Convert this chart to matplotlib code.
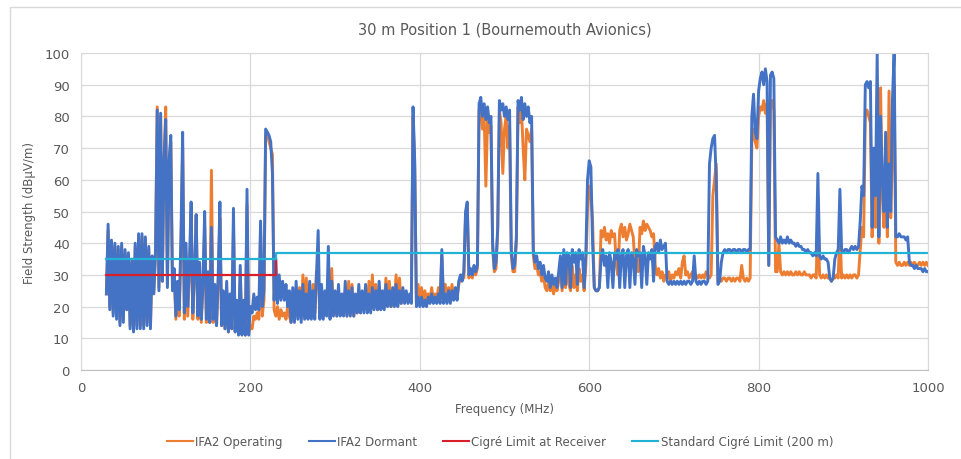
import numpy as np
import matplotlib
matplotlib.use("Agg")
import matplotlib.pyplot as plt
from matplotlib.patches import Rectangle

# sweep points, 2 MHz apart, 30..1000 MHz
FREQ = np.arange(30, 1001, 2)

# IFA2 Dormant, dBuV/m (one row = 20 MHz)
DORMANT = [
    24, 46, 19, 41, 17, 40, 16, 39, 14, 40,
    15, 38, 19, 37, 13, 35, 12, 40, 13, 43,
    13, 43, 13, 42, 14, 39, 13, 36, 24, 38,
    82, 25, 81, 28, 66, 79, 26, 66, 74, 25,
    32, 17, 28, 19, 42, 75, 18, 40, 20, 33,
    53, 18, 30, 49, 17, 34, 16, 28, 50, 16,
    31, 15, 45, 16, 27, 14, 30, 53, 14, 25,
    13, 28, 12, 24, 13, 51, 12, 22, 11, 33,
    11, 22, 11, 57, 11, 20, 18, 24, 19, 23,
    19, 47, 20, 25, 76, 75, 74, 72, 62, 22,
    35, 21, 30, 22, 28, 22, 27, 20, 25, 15,
    26, 15, 28, 16, 25, 15, 27, 16, 24, 16,
    28, 16, 25, 16, 30, 44, 16, 27, 16, 25,
    17, 39, 16, 28, 17, 25, 17, 27, 17, 24,
    17, 28, 17, 25, 17, 26, 17, 24, 18, 27,
    18, 25, 18, 27, 18, 24, 18, 26, 19, 25,
    19, 28, 19, 25, 19, 27, 20, 25, 20, 26,
    20, 27, 20, 25, 21, 26, 21, 25, 21, 24,
    21, 83, 66, 20, 23, 20, 23, 20, 22, 20,
    23, 21, 24, 21, 23, 21, 24, 21, 38, 21,
    24, 21, 25, 21, 25, 22, 26, 22, 28, 30,
    28, 31, 50, 53, 30, 32, 30, 33, 31, 33,
    84, 86, 80, 84, 79, 83, 78, 80, 40, 32,
    34, 45, 85, 82, 84, 80, 83, 79, 82, 38,
    32, 33, 42, 85, 82, 86, 79, 84, 80, 83,
    78, 80, 38, 34, 36, 32, 34, 30, 33, 29,
    28, 31, 26, 30, 27, 29, 26, 31, 36, 26,
    38, 27, 37, 36, 26, 38, 34, 37, 27, 38,
    35, 37, 26, 36, 60, 66, 64, 40, 26, 25,
    25, 26, 35, 38, 33, 36, 26, 37, 34, 26,
    37, 35, 38, 26, 36, 38, 26, 36, 38, 26,
    37, 35, 27, 38, 36, 37, 26, 39, 36, 27,
    37, 35, 38, 28, 39, 40, 37, 41, 38, 39,
    40, 28, 27, 28, 27, 28, 27, 28, 27, 28,
    27, 28, 27, 28, 28, 27, 28, 36, 28, 27,
    28, 27, 28, 28, 27, 28, 65, 70, 73, 74,
    60, 27, 28, 34, 37, 38, 37, 38, 38, 37,
    38, 38, 37, 38, 38, 37, 38, 38, 37, 38,
    38, 80, 87, 75, 73, 88, 92, 94, 90, 95,
    91, 33, 93, 94, 92, 42, 41, 40, 42, 40,
    41, 40, 42, 40, 41, 40, 40, 39, 40, 39,
    39, 38, 38, 37, 38, 37, 37, 36, 37, 36,
    62, 36, 35, 36, 35, 35, 34, 29, 28, 29,
    35, 37, 38, 57, 38, 37, 38, 38, 37, 38,
    39, 38, 39, 38, 39, 47, 58, 55, 90, 91,
    89, 91, 45, 70, 55, 100, 42, 80, 60, 50,
    75, 45, 65, 50, 85, 100, 42, 42, 43, 42,
    42, 42, 41, 42, 34, 33, 33, 32, 33, 32,
    32, 32, 31, 32, 31, 31,
]

# IFA2 Operating, dBuV/m
OPERATING = [
    24, 44, 20, 40, 18, 39, 17, 38, 15, 39,
    16, 37, 19, 36, 14, 34, 13, 39, 14, 42,
    14, 42, 14, 41, 15, 38, 14, 35, 25, 37,
    83, 26, 80, 28, 65, 83, 27, 65, 72, 26,
    30, 16, 27, 17, 38, 70, 16, 35, 17, 30,
    50, 16, 28, 49, 16, 30, 15, 26, 45, 15,
    28, 15, 63, 15, 25, 14, 27, 48, 14, 23,
    13, 25, 12, 22, 13, 45, 12, 20, 12, 30,
    12, 20, 11, 52, 12, 14, 13, 17, 16, 18,
    16, 44, 17, 22, 74, 75, 72, 70, 68, 19,
    17, 20, 16, 19, 17, 18, 16, 20, 17, 15,
    22, 16, 24, 17, 26, 17, 30, 18, 29, 17,
    24, 17, 27, 18, 31, 30, 17, 25, 17, 23,
    18, 30, 17, 32, 18, 24, 17, 25, 18, 23,
    18, 25, 17, 28, 18, 27, 17, 23, 18, 24,
    18, 23, 19, 25, 19, 28, 19, 30, 20, 27,
    19, 25, 20, 24, 20, 29, 21, 28, 20, 25,
    21, 30, 21, 29, 21, 25, 22, 24, 22, 23,
    22, 80, 64, 21, 27, 21, 26, 22, 25, 22,
    24, 22, 26, 22, 24, 22, 26, 22, 36, 22,
    27, 22, 26, 22, 27, 23, 25, 23, 27, 29,
    30, 29, 48, 52, 29, 31, 29, 32, 30, 32,
    82, 84, 76, 80, 58, 79, 75, 77, 38, 31,
    32, 44, 82, 78, 62, 76, 80, 70, 77, 36,
    31, 31, 40, 83, 78, 82, 70, 60, 76, 74,
    72, 76, 36, 32, 33, 30, 31, 28, 30, 26,
    25, 28, 25, 27, 24, 27, 25, 28, 33, 25,
    34, 26, 33, 27, 25, 33, 26, 30, 25, 32,
    28, 30, 25, 33, 50, 58, 56, 47, 26, 25,
    25, 26, 44, 42, 45, 41, 43, 40, 44, 42,
    43, 33, 30, 44, 46, 42, 45, 41, 43, 46,
    44, 42, 33, 35, 31, 45, 43, 47, 44, 46,
    45, 44, 42, 43, 33, 30, 32, 29, 31, 28,
    30, 29, 31, 28, 30, 29, 31, 30, 32, 29,
    34, 36, 30, 31, 29, 30, 31, 29, 30, 29,
    30, 29, 30, 29, 31, 30, 29, 30, 55, 60,
    65, 28, 29, 28, 29, 29, 28, 29, 29, 28,
    29, 28, 29, 29, 28, 33, 29, 28, 29, 28,
    29, 72, 76, 72, 70, 80, 83, 82, 85, 81,
    84, 33, 83, 85, 82, 31, 31, 40, 31, 30,
    31, 30, 31, 30, 31, 30, 30, 31, 30, 31,
    30, 30, 31, 30, 30, 30, 29, 30, 30, 29,
    50, 30, 29, 30, 29, 30, 29, 29, 28, 29,
    29, 30, 29, 45, 29, 30, 29, 30, 29, 30,
    29, 30, 30, 29, 30, 38, 45, 42, 80, 82,
    80, 78, 42, 60, 45, 70, 40, 89, 55, 45,
    65, 42, 88, 48, 70, 90, 34, 33, 34, 33,
    33, 34, 33, 34, 33, 34, 33, 34, 33, 33,
    34, 33, 34, 33, 34, 33,
]

# limit lines: (start MHz, end MHz, level)
RX_LIMIT_F = [30, 230, 230]
RX_LIMIT_V = [30, 30, 35]
STD_LIMIT_F = [30, 230, 230, 1000]
STD_LIMIT_V = [35, 35, 37, 37]

GREY = "#595959"

fig = plt.figure(figsize=(9.61, 4.6), dpi=100)
fig.patches.append(Rectangle((10 / 961, -0.01), 1.0, 1 - 8 / 460 + 0.01,
                             transform=fig.transFigure, fill=False,
                             edgecolor="#D9D9D9", lw=1))
ax = fig.add_axes([81 / 961, 89 / 460, 847 / 961, 317 / 460])

ax.plot(FREQ, OPERATING, color="#ED7D31", lw=2.1, label="IFA2 Operating")
ax.plot(FREQ, DORMANT, color="#4472C4", lw=2.1, label="IFA2 Dormant")
ax.plot(RX_LIMIT_F, RX_LIMIT_V, color="#D9202A", lw=1.6, label="Cigré Limit at Receiver")
ax.plot(STD_LIMIT_F, STD_LIMIT_V, color="#22B2D6", lw=1.6, label="Standard Cigré Limit (200 m)")

ax.set_xlim(0, 1000)
ax.set_ylim(0, 100)
ax.set_xticks(range(0, 1001, 200))
ax.set_yticks(range(0, 101, 10))
ax.grid(True, color="#D9D9D9", lw=0.9)
ax.set_axisbelow(True)
for s in ax.spines.values():
    s.set_color("#D9D9D9")
ax.spines["bottom"].set_color("#BFBFBF")
ax.tick_params(length=0, colors=GREY, labelsize=9.5, pad=8)

ax.set_title("30 m Position 1 (Bournemouth Avionics)", color=GREY, fontsize=10.5, pad=14)
ax.set_xlabel("Frequency (MHz)", color=GREY, fontsize=8.5, labelpad=6)
ax.set_ylabel("Field Strength (dBµV/m)", color=GREY, fontsize=8.5, labelpad=6)

leg = fig.legend(loc="center", bbox_to_anchor=(500 / 961, 1 - 443 / 460), ncol=4,
                 frameon=False, fontsize=8.5, handlelength=2.2, columnspacing=2.2,
                 handletextpad=0.2)
for t in leg.get_texts():
    t.set_color(GREY)
for h in leg.get_lines():
    h.set_linewidth(1.5)

fig.savefig("out.png", dpi=100)
